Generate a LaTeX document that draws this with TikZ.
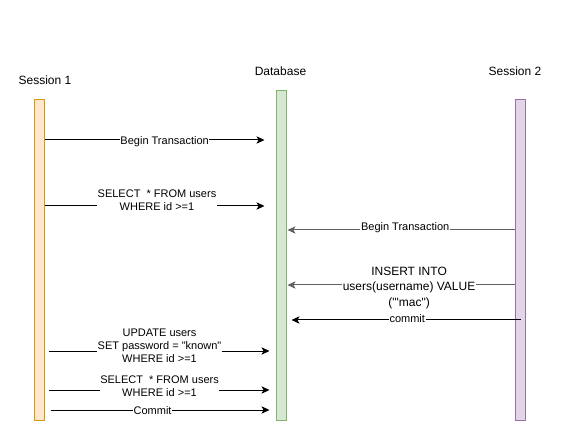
\documentclass[tikz,border=0pt]{standalone}
\usepackage{fontspec}
\setmainfont{Liberation Sans}[Ligatures=TeXOff]
\usetikzlibrary{positioning, arrows.meta}

\definecolor{sOneFill}{HTML}{FFE6CC}
\definecolor{sOneDraw}{HTML}{D79B00}
\definecolor{dbFill}{HTML}{D5E8D4}
\definecolor{dbDraw}{HTML}{82B366}
\definecolor{sTwoFill}{HTML}{E1D5E7}
\definecolor{sTwoDraw}{HTML}{9673A6}

\begin{document}
\begin{tikzpicture}[x=0.75pt,y=-0.75pt,>={Stealth[length=6pt,width=5.5pt,inset=1.5pt]},
                line width=0.75pt,
                lifeline/.style={rectangle,draw,minimum width=7.5pt,minimum height=240pt,inner sep=0pt},
                title/.style={font=\fontsize{9pt}{10.8pt}\selectfont},
                msg/.style={->},
                msgback/.style={->,draw=black!62},
                msglabel/.style={fill=white,inner sep=0.5pt,align=center,
                  font=\fontsize{8.25pt}{9.75pt}\selectfont,text=black}]

  \useasboundingbox (0,0) rectangle (561,431);

  % lifelines
  \node[lifeline,fill=sOneFill,draw=sOneDraw] (s1) at (39,260) {};
  \node[lifeline,fill=dbFill,draw=dbDraw,minimum height=246.75pt] (db) at (281,255.5) {};
  \node[lifeline,fill=sTwoFill,draw=sTwoDraw,minimum width=7.9pt] (s2) at (520.5,260) {};

  \node[title] (t1) at (45,80) {Session 1};
  \node[title] (tdb) at (280.5,71) {Database};
  \node[title] (t2) at (515,71) {Session 2};

  % session 1 -> database
  \draw[msg,shorten >=8.25pt] (s1.east |- 0,140) -- node[msglabel,pos=0.52,yshift=-1pt] {Begin Transaction} (db.west |- 0,140);
  \draw[msg,shorten >=8.25pt] (s1.east |- 0,206) -- node[msglabel,pos=0.487,yshift=4pt] {SELECT \ * FROM users\\WHERE id >=1} (db.west |- 0,206);

  % session 2 -> database
  \draw[msgback,shorten >=0.75pt] (s2.west |- 0,230) -- node[msglabel,pos=0.48,yshift=1.5pt] {Begin Transaction} (db.east |- 0,230);
  \draw[msgback,shorten >=0.75pt] (s2.west |- 0,285) -- node[msglabel,pos=0.463,yshift=-2.2pt,
      font=\fontsize{9pt}{11.6pt}\selectfont] {INSERT INTO\\users(username) VALUE\\("'mac")} (db.east |- 0,285);
  \draw[msg,shorten >=3.75pt] (s2 |- 0,320) -- node[msglabel,pos=0.484,yshift=1pt] {commit} (db.east |- 0,320);

  % session 1 -> database again
  \draw[msg,shorten <=3pt,shorten >=4.5pt] (s1.east |- 0,351) -- node[msglabel,pos=0.498,yshift=4pt] {UPDATE users\\SET password = "known"\\WHERE id >=1} (db.west |- 0,351);
  \draw[msg,shorten <=3pt,shorten >=4.5pt] (s1.east |- 0,390) -- node[msglabel,pos=0.498,yshift=3pt] {SELECT \ * FROM users\\WHERE id >=1} (db.west |- 0,390);
  \draw[msg,shorten <=4.5pt,shorten >=4.5pt] (s1.east |- 0,410) -- node[msglabel,pos=0.468,yshift=-0.5pt] {Commit} (db.west |- 0,410);
\end{tikzpicture}
\end{document}
